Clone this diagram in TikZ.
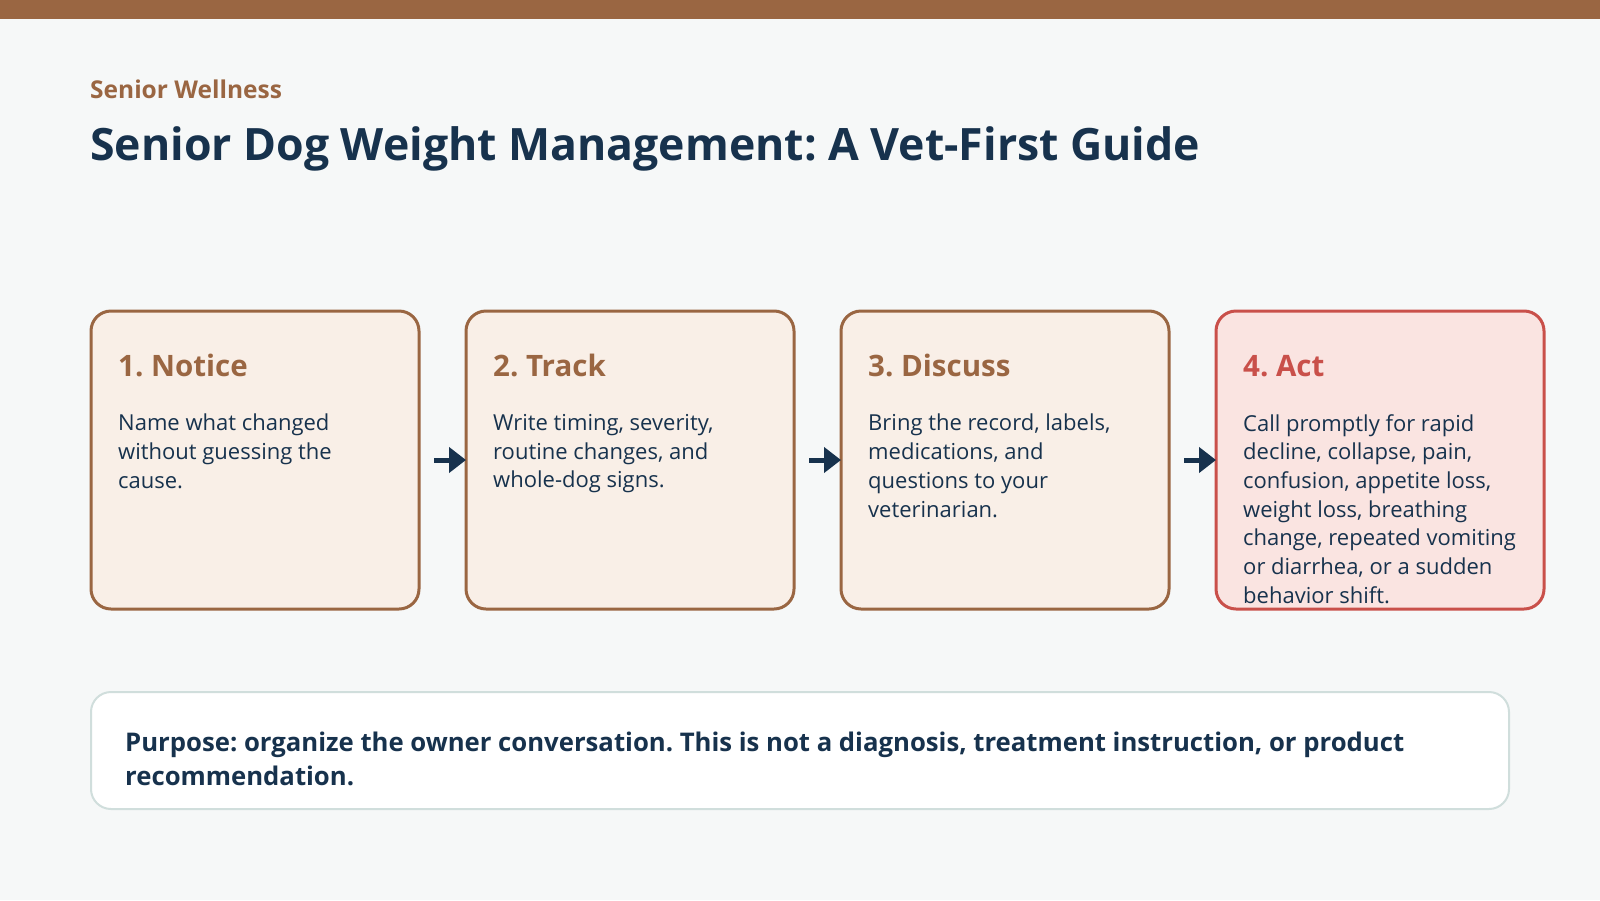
\documentclass[tikz,border=0pt]{standalone}
\usepackage{fontspec}
\setmainfont{Open Sans}
\frenchspacing
\usetikzlibrary{arrows.meta, positioning}

\definecolor{bgcol}{HTML}{F6F8F8}
\definecolor{brownline}{HTML}{9A6642}
\definecolor{brownfill}{HTML}{F9EFE7}
\definecolor{navy}{HTML}{17324D}
\definecolor{redline}{HTML}{C9504A}
\definecolor{redfill}{HTML}{FAE4E1}
\definecolor{noteline}{HTML}{D0DEDC}

\begin{document}
\begin{tikzpicture}[x=1pt,y=-1pt,
	stepbox/.style={draw=brownline, fill=brownfill, line width=3pt, rounded corners=20pt,
		minimum width=328pt, minimum height=298pt, inner sep=0pt, outer sep=0pt},
	alertbox/.style={stepbox, draw=redline, fill=redfill},
	steptitle/.style={anchor=base west, inner sep=0pt, text=brownline,
		font=\fontsize{29.5}{34}\selectfont\bfseries},
	steptext/.style={anchor=north west, inner sep=0pt, text=navy, align=left,
		font=\fontsize{22}{28.7}\selectfont, execute at begin node=\strut},
	flowarrow/.style={draw=navy, line width=5pt, -{Triangle[length=17pt,width=25pt]}}]
	% Hintergrund
	\fill[bgcol] (0,0) rectangle (1600,900);
	\fill[brownline] (0,0) rectangle (1600,19);
	\useasboundingbox (0,0) rectangle (1600,900);
	
	% Ueberschrift
	\node[anchor=base west, inner sep=0pt, text=brownline, font=\fontsize{24.5}{28}\selectfont\bfseries]
		(kicker) at (90,98) {Senior Wellness};
	\node[anchor=base west, inner sep=0pt, text=navy, font=\fontsize{44.6}{52}\selectfont\bfseries]
		(title) at (90,160) {Senior Dog Weight Management: A Vet-First Guide};
	
	% Schritte
	\node[stepbox, anchor=north west] (notice) at (91,311) {};
	\node[stepbox, right=47pt of notice] (track) {};
	\node[stepbox, right=47pt of track] (discuss) {};
	\node[alertbox, right=47pt of discuss] (act) {};
	
	\node[steptitle] (notice-t) at ([shift={(27,65)}]notice.north west) {1. Notice};
	\node[steptitle] (track-t) at ([shift={(27,65)}]track.north west) {2. Track};
	\node[steptitle] (discuss-t) at ([shift={(27,65)}]discuss.north west) {3. Discuss};
	\node[steptitle, text=redline] (act-t) at ([shift={(27,65)}]act.north west) {4. Act};
	
	\node[steptext] (notice-b) at ([shift={(27,103)}]notice.north west)
		{Name what changed\\without guessing the\\cause.};
	\node[steptext] (track-b) at ([shift={(27,103)}]track.north west)
		{Write timing, severity,\\routine changes, and\\whole-dog signs.};
	\node[steptext] (discuss-b) at ([shift={(27,103)}]discuss.north west)
		{Bring the record, labels,\\medications, and\\questions to your\\veterinarian.};
	\node[steptext] (act-b) at ([shift={(27,103)}]act.north west)
		{Call promptly for rapid\\decline, collapse, pain,\\confusion, appetite loss,\\weight loss, breathing\\change, repeated vomiting\\or diarrhea, or a sudden\\behavior shift.};
	
	% Pfeile
	\foreach \a/\b in {notice/track, track/discuss, discuss/act} {
		\draw[flowarrow] ([xshift=15pt]\a.east) -- (\b.west);
	}
	
	% Hinweis
	\node[draw=noteline, fill=white, line width=2pt, rounded corners=20pt, anchor=north west,
		minimum width=1418pt, minimum height=117pt, inner sep=0pt, outer sep=0pt] (note) at (91,692) {};
	\node[anchor=north west, inner sep=0pt, text=navy, align=left, execute at begin node=\strut,
		font=\fontsize{25.7}{34}\selectfont\bfseries] (note-t) at ([shift={(34,40)}]note.north west)
		{Purpose: organize the owner conversation. This is not a diagnosis, treatment instruction, or product\\recommendation.};
\end{tikzpicture}
\end{document}
